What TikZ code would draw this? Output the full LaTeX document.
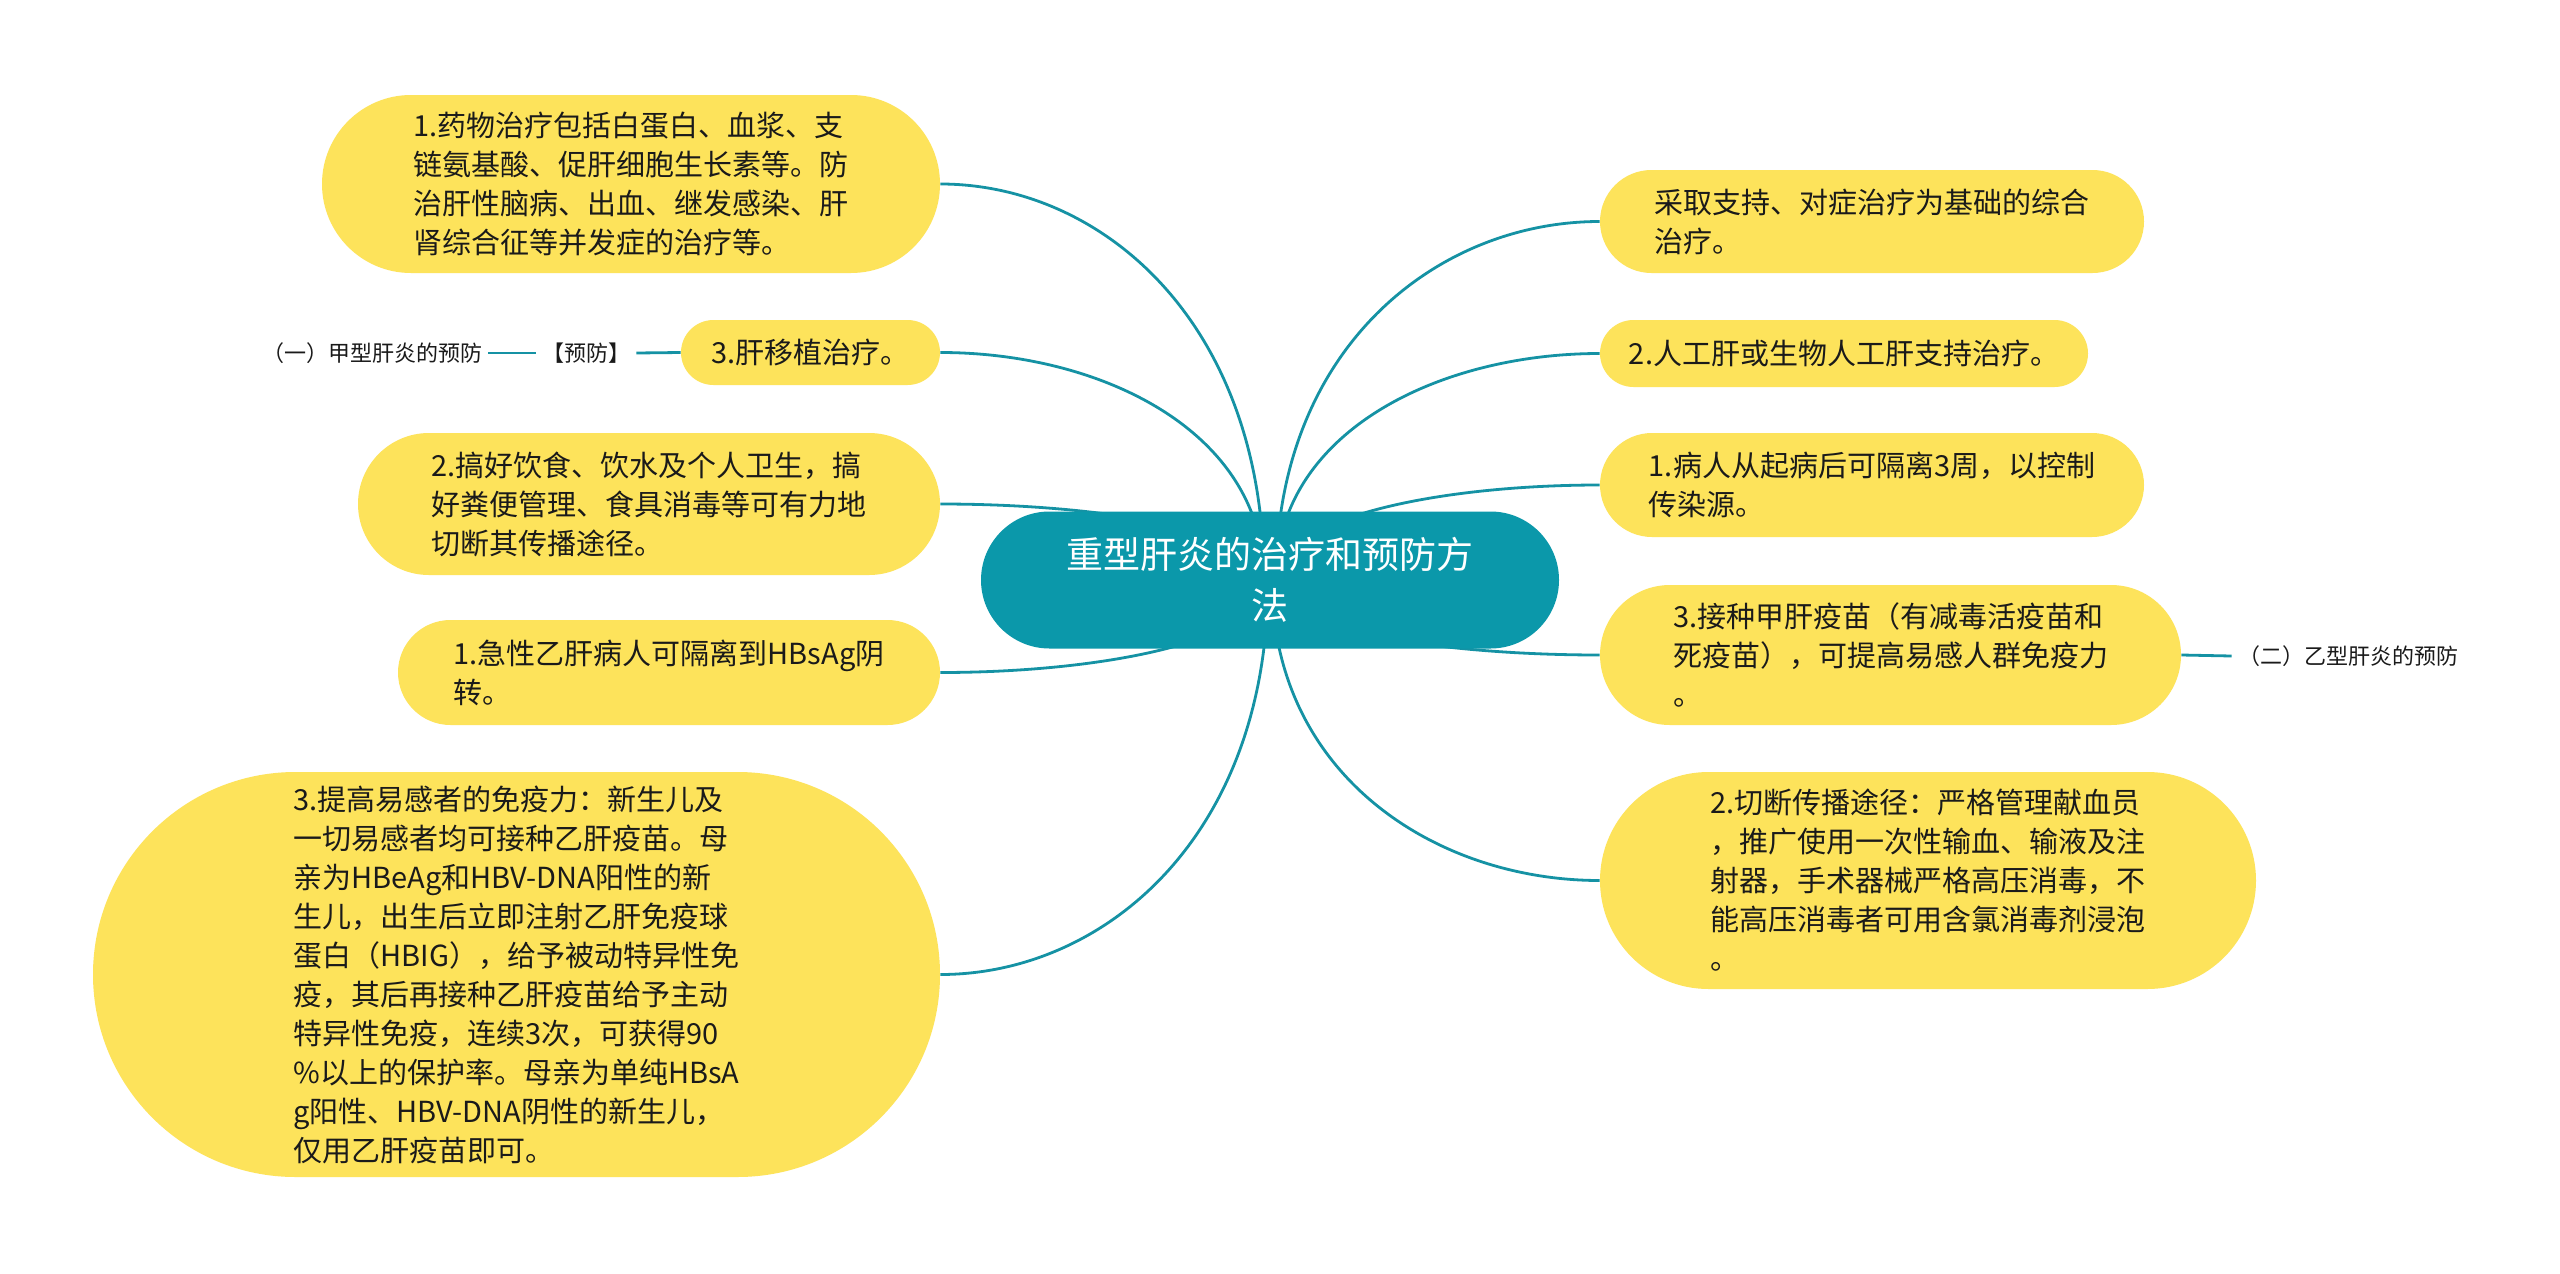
\documentclass[tikz,border=0pt]{standalone}
\usepackage{fontspec}
\setmainfont{Noto Sans CJK SC}
\usetikzlibrary{calc}
\pgfdeclarelayer{bg}
\pgfsetlayers{bg,main}
\definecolor{mmteal}{HTML}{0B98AA}
\definecolor{mmline}{HTML}{1592A4}
\definecolor{mmyellow}{HTML}{FDE35B}
\definecolor{mmtext}{HTML}{1A1A1A}
\tikzset{
  leaf/.style={fill=mmyellow, text=mmtext, align=left,
    font=\fontsize{14.5pt}{19.5pt}\selectfont, inner sep=0pt},
  rootbox/.style={fill=mmteal, text=white, align=center,
    font=\fontsize{18.5pt}{25.5pt}\selectfont, inner sep=0pt},
  link/.style={draw=mmline, line width=1.4pt},
  tag/.style={text=mmtext, font=\fontsize{11pt}{13pt}\selectfont, inner sep=3pt},
}
\newcommand\mmlink[2]{\path[link] let \p1=(#1), \p2=(#2),
  \p3=($(\p1)!0.5!(\p2)$), \p4=($(\p1)!0.65!(\p2)$) in
  (\p1) .. controls (\x1,\y4) and (\x3,\y2) .. (\p2);}
\begin{document}
\begin{tikzpicture}[x=0.5pt,y=-0.5pt]
\useasboundingbox (0,0) rectangle (2560,1274);

% root
\node[rootbox, minimum width=289pt, minimum height=68.5pt, rounded corners=34.25pt]
  (root) at (1270,580) {重型肝炎的治疗和预防方\\法};

% left children
\node[leaf, minimum width=309pt, minimum height=89pt, rounded corners=44.5pt] (b1) at (631,184)
  {1.药物治疗包括白蛋白、血浆、支\\链氨基酸、促肝细胞生长素等。防\\治肝性脑病、出血、继发感染、肝\\肾综合征等并发症的治疗等。};
\node[leaf, minimum width=129.5pt, minimum height=32.5pt, rounded corners=16.25pt] (b2) at (810.5,352.5)
  {3.肝移植治疗。};
\node[leaf, minimum width=291pt, minimum height=71pt, rounded corners=35.5pt] (b3) at (649,504)
  {2.搞好饮食、饮水及个人卫生，搞\\好粪便管理、食具消毒等可有力地\\切断其传播途径。};
\node[leaf, minimum width=271pt, minimum height=52.5pt, rounded corners=26.25pt] (b4) at (669,672.5)
  {1.急性乙肝病人可隔离到HBsAg阴\\转。};
\node[leaf, minimum width=423.5pt, minimum height=202.5pt, rounded corners=101.25pt] (b5) at (516.5,974.5)
  {3.提高易感者的免疫力：新生儿及\\一切易感者均可接种乙肝疫苗。母\\亲为HBeAg和HBV-DNA阳性的新\\生儿，出生后立即注射乙肝免疫球\\蛋白（HBIG），给予被动特异性免\\疫，其后再接种乙肝疫苗给予主动\\特异性免疫，连续3次，可获得90\\\%以上的保护率。母亲为单纯HBsA\\g阳性、HBV-DNA阴性的新生儿，\\仅用乙肝疫苗即可。};

% right children
\node[leaf, minimum width=272pt, minimum height=51.5pt, rounded corners=25.75pt] (r1) at (1872,221.5)
  {采取支持、对症治疗为基础的综合\\治疗。};
\node[leaf, minimum width=244pt, minimum height=33.5pt, rounded corners=16.75pt] (r2) at (1844,353.5)
  {2.人工肝或生物人工肝支持治疗。};
\node[leaf, minimum width=272pt, minimum height=52pt, rounded corners=26pt] (r3) at (1872,485)
  {1.病人从起病后可隔离3周，以控制\\传染源。};
\node[leaf, minimum width=290.5pt, minimum height=70pt, rounded corners=35pt] (r4) at (1890.5,655)
  {3.接种甲肝疫苗（有减毒活疫苗和\\死疫苗），可提高易感人群免疫力\\。};
\node[leaf, minimum width=328pt, minimum height=108.5pt, rounded corners=54.25pt] (r5) at (1928,880.5)
  {2.切断传播途径：严格管理献血员\\，推广使用一次性输血、输液及注\\射器，手术器械严格高压消毒，不\\能高压消毒者可用含氯消毒剂浸泡\\。};

% tags
\node[tag] (pf) at (586,353) {【预防】};
\node[tag] (jia) at (372,353) {（一）甲型肝炎的预防};
\node[tag] (yi) at (2348,656) {（二）乙型肝炎的预防};

\begin{pgfonlayer}{bg}
  \fill[white] (0,0) rectangle (2560,1274);
  \mmlink{[xshift=-3pt]root.center}{b1.east}
  \mmlink{[xshift=-3pt]root.center}{b2.east}
  \mmlink{[xshift=-3pt]root.center}{b3.east}
  \mmlink{[xshift=-1pt]root.center}{b4.east}
  \mmlink{[xshift=-1pt]root.center}{b5.east}
  \mmlink{[xshift=3pt]root.center}{r1.west}
  \mmlink{[xshift=3pt]root.center}{r2.west}
  \mmlink{[xshift=3pt]root.center}{r3.west}
  \mmlink{[xshift=1pt]root.center}{r4.west}
  \mmlink{[xshift=1pt]root.center}{r5.west}
  \draw[link] (b2.west) -- (pf.east);
  \draw[link] (pf.west) -- (jia.east);
  \draw[link] (r4.east) -- (yi.west);
\end{pgfonlayer}
\end{tikzpicture}
\end{document}
